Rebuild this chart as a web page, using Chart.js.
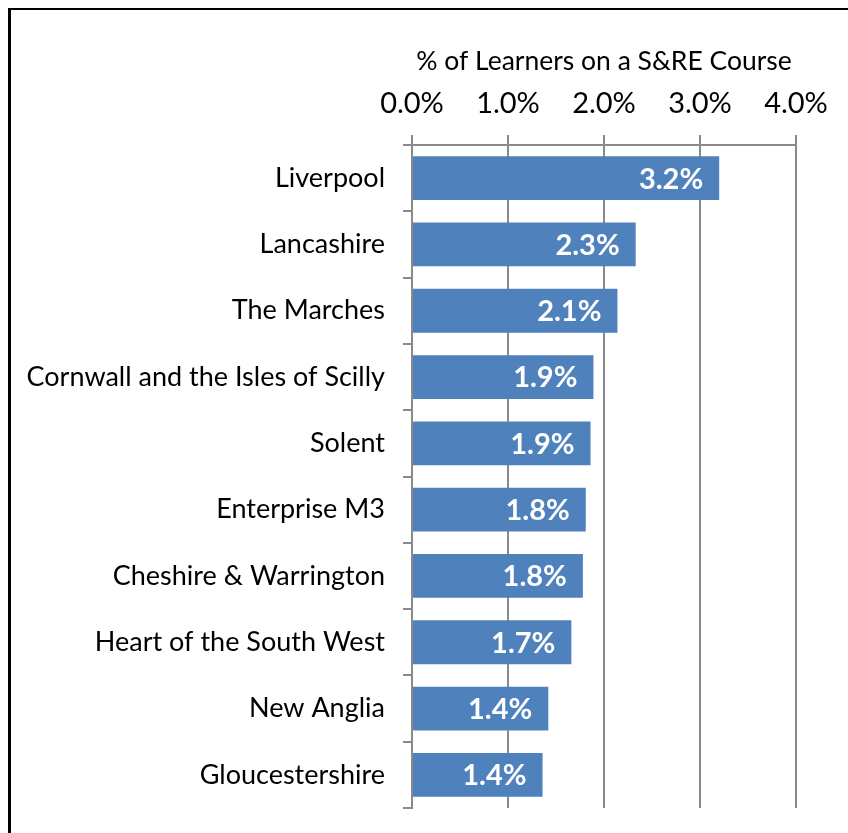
<!doctype html>
<html lang="en">
<head>
  <meta charset="utf-8" />
  <title>S&amp;RE Course learners</title>
  <style>
    html, body { margin: 0; background: #fff; overflow: hidden; }
    .frame {
      position: absolute;
      left: 8px;
      top: 8px;
      width: 837px;
      height: 823px;
      border-top: 2px solid #000;
      border-left: 3px solid #000;
    }
    #learnerChart {
      position: absolute;
      left: 0;
      top: 0;
    }
  </style>
</head>
<body>
  <div class="frame"></div>
  <canvas id="learnerChart" width="848" height="833"></canvas>
<script src="https://cdn.jsdelivr.net/npm/chart.js@4.4.1/dist/chart.umd.min.js"></script>
<script>
  // LEP areas, top to bottom
  const areas = [
    'Liverpool',
    'Lancashire',
    'The Marches',
    'Cornwall and the Isles of Scilly',
    'Solent',
    'Enterprise M3',
    'Cheshire & Warrington',
    'Heart of the South West',
    'New Anglia',
    'Gloucestershire'
  ];
  // % of learners on a S&RE course
  const pctLearners = [3.20, 2.33, 2.14, 1.89, 1.86, 1.81, 1.78, 1.66, 1.42, 1.36];
  const xTicks = [0, 1, 2, 3, 4];

  const gridGrey = '#8a8a8a';

  // white value labels at the end of each bar
  const barLabels = {
    id: 'barLabels',
    afterDatasetsDraw(chart) {
      const ctx = chart.ctx;
      const meta = chart.getDatasetMeta(0);
      ctx.save();
      ctx.fillStyle = '#fff';
      ctx.font = 'bold 29px Lato';
      ctx.textAlign = 'right';
      ctx.textBaseline = 'middle';
      meta.data.forEach((bar, i) => {
        const p = bar.getProps(['x', 'y'], true);
        ctx.fillText(pctLearners[i].toFixed(1) + '%', p.x - 16, p.y + 1);
      });
      ctx.restore();
    }
  };

  const ctx = document.getElementById('learnerChart').getContext('2d');
  const chart = new Chart(ctx, {
    type: 'bar',
    data: {
      labels: areas,
      datasets: [{
        data: pctLearners,
        backgroundColor: '#4F81BD',
        borderWidth: 0,
        categoryPercentage: 1,
        barPercentage: 0.66
      }]
    },
    options: {
      indexAxis: 'y',
      responsive: false,
      animation: false,
      layout: {
        padding: { left: 0, right: 52, top: 30, bottom: 25 }
      },
      plugins: {
        legend: { display: false },
        tooltip: { enabled: false }
      },
      scales: {
        x: {
          position: 'top',
          min: 0,
          max: 4,
          afterBuildTicks: (scale) => {
            scale.ticks = xTicks.map(v => ({ value: v }));
          },
          afterFit: (scale) => { scale.height = 115; },
          ticks: {
            color: '#000',
            font: { family: 'Lato', size: 29 },
            padding: 14,
            callback: (v) => Number(v).toFixed(1) + '%'
          },
          grid: {
            color: gridGrey,
            lineWidth: 2,
            tickLength: 10
          },
          border: { color: gridGrey, width: 2 },
          title: {
            display: true,
            text: '% of Learners on a S&RE Course',
            color: '#000',
            font: { family: 'Lato', size: 26.5 },
            padding: { top: 16, bottom: 4 }
          }
        },
        y: {
          afterFit: (scale) => {
            scale.width = 412;
            scale.paddingTop = 0;
            scale.paddingBottom = 0;
          },
          ticks: {
            color: '#000',
            font: { family: 'Lato', size: 27 },
            padding: 18
          },
          grid: {
            offset: true,
            drawOnChartArea: false,
            color: gridGrey,
            lineWidth: 2,
            tickLength: 9
          },
          border: { color: gridGrey, width: 2 }
        }
      }
    },
    plugins: [barLabels]
  });
</script>
</body>
</html>
